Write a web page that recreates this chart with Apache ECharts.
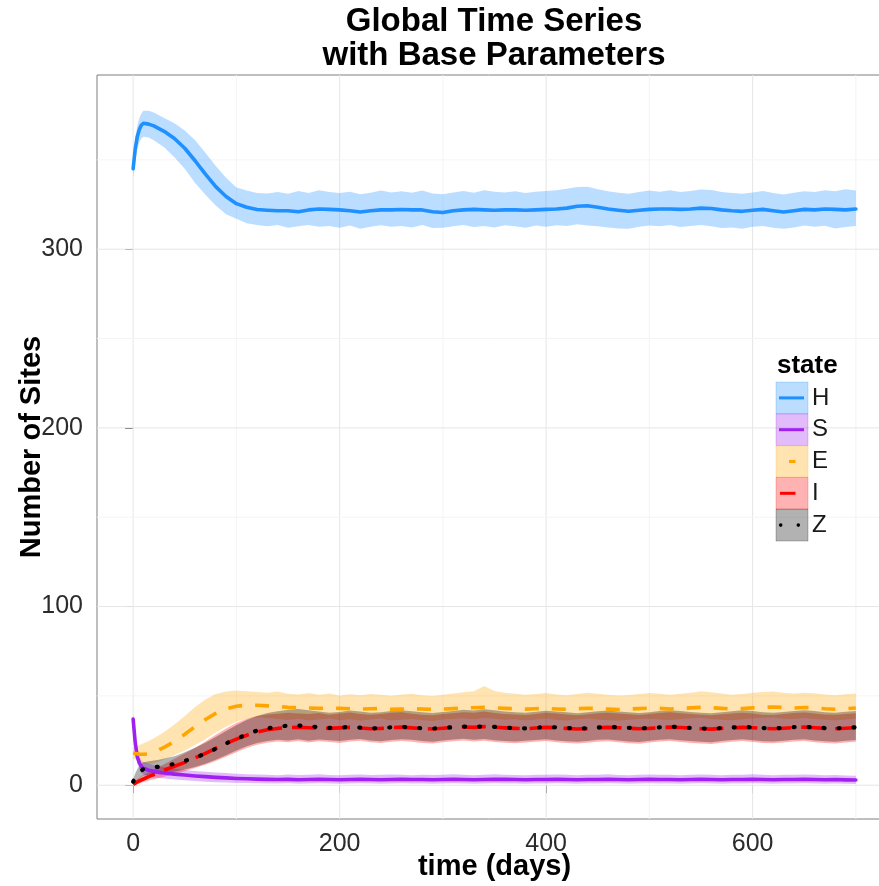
<!DOCTYPE html>
<html>
<head>
<meta charset="utf-8">
<script src="https://cdn.jsdelivr.net/npm/echarts@6/dist/echarts.min.js"></script>
<style>
  html, body { margin: 0; padding: 0; background: #ffffff; }
  #chart { width: 879px; height: 886px; }
</style>
</head>
<body>
<div id="chart"></div>
<script>
// Simulation output: mean and 95% band of the number of sites in each state
const days = [0, 2, 4, 6, 8, 10, 15, 20, 25, 30, 40, 50, 60, 70, 80, 90, 100, 110, 120,
  130, 140, 150, 160, 170, 180, 190, 200, 210, 220, 230, 240, 250, 260, 270, 280, 290, 300,
  310, 320, 330, 340, 350, 360, 370, 380, 390, 400, 410, 420, 430, 440, 450, 460, 470, 480,
  490, 500, 510, 520, 530, 540, 550, 560, 570, 580, 590, 600, 610, 620, 630, 640, 650, 660,
  670, 680, 690, 700];

const hMean = [345, 356, 363, 367, 369.5, 370.5, 370, 369, 367.5, 366, 362, 356.5, 349.5, 342, 335, 329.5, 325.5, 323.5, 322.2,
  321.8, 321.5, 321.5, 321, 322, 322.5, 322.3, 322, 321.5, 320.8,
  321.5, 322, 322, 322.2, 322, 322, 321, 320.5, 321.5, 322,
  322.3, 322, 321.8, 322, 322, 321.8, 322, 322.3, 322.5, 323,
  324, 324.3, 323.5, 322.5, 321.8, 321.2, 321.8, 322.3, 322.5, 322.5,
  322.3, 322.5, 323, 322.8, 322, 321.5, 321.2, 321.8, 322.3, 321.5,
  320.8, 321.5, 322.3, 322, 322.5, 322.3, 322, 322.5];
const hLow = [340, 350, 356, 360, 362, 363, 362.5, 361, 359, 357, 351.5, 345, 337, 330.5, 324.5, 319.5, 317, 314.5, 313.5,
  312.8, 313.5, 312, 312.8, 313.5, 312.5, 313, 312, 313.2, 311.5,
  312.5, 313.4, 312.6, 313, 312.2, 313.5, 311.8, 312, 312.8, 313.6,
  312.4, 313, 312.2, 313.4, 312.8, 312, 313.2, 312.6, 313.4, 313,
  314, 313.2, 312.8, 312.2, 311.6, 311.4, 312.6, 313.2, 312.8, 313.5,
  312.4, 313, 313.6, 312.8, 311.8, 312.2, 311.5, 312.6, 313, 312,
  311.4, 312.2, 313.3, 312.5, 313.1, 311.6, 312.4, 313];
const hUp = [350, 362, 369, 373.5, 376, 377.5, 377.5, 376.5, 375, 373.5, 370.5, 366.5, 361, 354, 346.5, 340, 334.5, 332.8, 331.5,
  331.2, 332, 331, 332.6, 331.5, 333, 332, 331.4, 332.2, 330.8,
  331.6, 332.8, 331.8, 332.4, 331.6, 332.8, 331.2, 330.8, 331.8, 332.6,
  331.6, 333, 332.2, 331.8, 332.4, 331.4, 332.2, 332.6, 333, 333.8,
  334.8, 335, 333.6, 332.4, 331.6, 331, 332, 332.8, 332.2, 333,
  332, 332.6, 333.4, 333.2, 332, 331.4, 331, 331.8, 332.6, 331.4,
  330.6, 331.6, 332.4, 332, 333, 332.4, 333.6, 332.8];

const sMean = [37, 24, 16, 12.5, 10.5, 9.5, 8.4, 7.8, 7.2, 6.8, 6.2, 5.7, 5.2, 4.8, 4.4, 4.1, 3.8, 3.6, 3.4,
  3.3, 3.2, 3.3, 3.1, 3.2, 3.3, 3.2, 3.1, 3.2, 3.3,
  3.2, 3.1, 3.2, 3.3, 3.2, 3.2, 3.1, 3.2, 3.3, 3.2,
  3.1, 3.2, 3.3, 3.3, 3.2, 3.1, 3.2, 3.2, 3.3, 3.2,
  3.1, 3.2, 3.2, 3.3, 3.2, 3.1, 3.2, 3.3, 3.2, 3.2,
  3.1, 3.2, 3.3, 3.2, 3.1, 3.2, 3.2, 3.3, 3.2, 3.1,
  3.2, 3.2, 3.3, 3.2, 3.1, 3.2, 3.0, 2.9];
const sLow = [34, 20, 12.5, 9, 7, 6, 5, 4.5, 4, 3.7, 3.2, 2.8, 2.4, 2, 1.7, 1.5, 1.3, 1.2, 1.1,
  1.0, 0.9, 1.1, 0.8, 1.0, 1.1, 0.9, 0.8, 1.0, 1.1,
  0.9, 0.8, 1.0, 1.1, 0.9, 1.0, 0.8, 0.9, 1.1, 1.0,
  0.8, 1.0, 1.1, 1.0, 0.9, 0.8, 1.0, 0.9, 1.1, 1.0,
  0.8, 0.9, 1.0, 1.1, 0.9, 0.8, 1.0, 1.1, 0.9, 1.0,
  0.8, 1.0, 1.1, 0.9, 0.8, 1.0, 0.9, 1.1, 1.0, 0.8,
  1.0, 0.9, 1.1, 1.0, 0.8, 0.9, 0.8, 0.7];
const sUp = [40, 28, 20, 16, 14, 13, 12, 11.2, 10.6, 10, 9.2, 8.5, 8, 7.5, 7.1, 6.8, 6.4, 6.2, 6,
  5.8, 5.6, 6.0, 5.7, 5.9, 6.1, 5.7, 5.6, 5.9, 6.0,
  5.7, 5.8, 6.0, 5.9, 5.6, 5.9, 5.7, 5.8, 6.1, 5.8,
  5.6, 5.9, 6.2, 5.8, 5.7, 5.6, 5.9, 5.8, 6.0, 5.9,
  5.6, 5.8, 5.9, 6.1, 5.7, 5.6, 5.9, 6.0, 5.8, 5.9,
  5.6, 5.8, 6.0, 5.9, 5.6, 5.8, 5.9, 6.1, 5.8, 5.6,
  5.8, 5.9, 6.0, 5.8, 5.6, 5.7, 5.5, 5.3];

const eMean = [18, 17.8, 17.6, 17.4, 17.3, 17.3, 17.6, 18.5, 19.8, 21.2, 24.5, 28.5, 32.8, 36.8, 40.2, 42.8, 44.2, 44.8, 44.8,
  44.4, 44, 43.6, 43.4, 43.2, 43, 43.2, 43, 42.8, 42.6,
  42.8, 42.9, 42.5, 42.6, 42.8, 42.7, 42.4, 42.6, 42.9, 43.2,
  43.4, 43.6, 43.3, 43, 42.8, 42.6, 42.8, 43, 42.7, 42.5,
  42.8, 43.1, 42.9, 42.6, 42.4, 42.6, 42.9, 43.2, 43, 42.7,
  42.9, 43.3, 43.6, 43.4, 43, 42.6, 42.9, 43.3, 43.6, 43.8,
  43.5, 43.2, 43.5, 43.3, 42.8, 42.5, 42.8, 43.2];
const eLow = [15, 14.5, 13.8, 13.2, 12.6, 12, 11.8, 12.3, 13.3, 14.5, 16.8, 19.5, 22.5, 25.8, 29.5, 32.8, 35.5, 37.2, 38,
  37.6, 37, 36.5, 37.2, 36.2, 36.8, 37.4, 36.4, 36.9, 36.1,
  36.8, 37.3, 36.2, 36.7, 37.1, 36.3, 36, 36.8, 37.2, 37.5,
  36.9, 37.6, 37.2, 36.6, 36.9, 36.2, 36.8, 37.3, 36.5, 36.2,
  36.9, 37.4, 36.8, 36.3, 36.1, 36.6, 37, 37.4, 36.8, 36.5,
  37, 37.5, 37.8, 37.1, 36.7, 36.3, 36.9, 37.4, 37.7, 37.9,
  37.2, 37, 37.6, 37.1, 36.6, 36.2, 36.8, 37.3];
const eUp = [21, 21.5, 22, 22.5, 23, 23.5, 24.8, 26.3, 28, 29.8, 34, 38.8, 43.8, 48, 51, 52.5, 53, 52.6, 52.2,
  51.8, 52.4, 51.2, 50.8, 51.6, 50.6, 51.4, 50.2, 50.9, 50.4,
  51, 50.6, 50.1, 50.8, 51.2, 50.4, 50, 50.6, 51.3, 52,
  52.6, 55.5, 52.8, 51.8, 51.2, 50.6, 51, 51.6, 50.8, 50.3,
  51, 51.8, 51.2, 50.6, 50.2, 50.5, 51, 51.6, 51.2, 50.7,
  51.2, 51.8, 52.6, 52, 51.3, 50.6, 51, 51.7, 52.2, 52.4,
  51.8, 51.3, 51.8, 51.5, 50.8, 50.3, 50.9, 51.4];

const iMean = [0.5, 1.2, 1.8, 2.4, 3, 3.5, 4.8, 6, 7.2, 8.4, 10.6, 12.8, 15.3, 17.8, 20.6, 23.3, 25.8, 28, 29.8,
  31, 31.8, 32.3, 32.4, 32.2, 32, 31.8, 32.1, 32.4, 32,
  31.6, 31.8, 32.2, 32.5, 32.1, 31.7, 31.5, 31.9, 32.3, 32.6,
  32.4, 32.8, 32.5, 32.1, 31.8, 31.6, 32, 32.4, 32.2, 31.8,
  31.5, 31.7, 32.1, 32.4, 32.2, 31.9, 31.6, 31.8, 32.2, 32.5,
  32.3, 31.9, 31.6, 31.4, 31.8, 32.1, 32.4, 32.2, 31.8, 31.6,
  31.9, 32.3, 32.5, 32.2, 31.8, 31.6, 31.9, 32.2];
const iLow = [0, 0.3, 0.6, 1, 1.4, 1.8, 2.6, 3.3, 4, 4.8, 6.3, 7.8, 9.6, 11.5, 13.6, 16, 18.5, 20.8, 22.6,
  23.8, 24.5, 24.1, 24.8, 23.9, 24.6, 24.2, 23.7, 24.5, 24.9,
  24.1, 23.6, 24.3, 24.8, 24.4, 23.7, 23.4, 24, 24.6, 25,
  24.5, 24.9, 24.2, 23.8, 23.5, 23.9, 24.3, 24.7, 24.1, 23.6,
  23.3, 23.8, 24.4, 24.6, 24, 23.5, 23.2, 23.9, 24.5, 24.8,
  24.2, 23.7, 23.4, 23.1, 23.8, 24.3, 24.7, 24.2, 23.6, 23.5,
  23.9, 24.5, 24.8, 24.1, 23.6, 23.4, 23.9, 24.3];
const iUp = [1.5, 2.5, 3.4, 4.3, 5, 5.6, 7.2, 8.8, 10.3, 11.8, 14.8, 17.8, 21, 24.5, 28.2, 31.8, 34.8, 37.2, 38.8,
  39.6, 40, 40.6, 40.2, 39.8, 40.4, 39.5, 40.1, 40.7, 39.9,
  39.4, 39.9, 40.5, 40.8, 40, 39.5, 39.2, 39.8, 40.3, 40.9,
  40.6, 41.2, 40.4, 39.9, 39.6, 39.3, 39.9, 40.5, 40.1, 39.6,
  39.2, 39.7, 40.3, 40.6, 40.2, 39.7, 39.3, 39.8, 40.4, 40.8,
  40.3, 39.8, 39.4, 39.1, 39.7, 40.2, 40.6, 40.1, 39.5, 39.3,
  39.8, 40.4, 40.7, 40.2, 39.6, 39.4, 39.9, 40.3];

const zMean = [2, 4, 6, 7.3, 8.3, 9, 9.6, 10, 10.4, 10.9, 11.9, 13.6, 15.5, 17.6, 20.4, 23.4, 26, 28.4, 30.6,
  31.8, 32.7, 33.4, 33.4, 33, 32.5, 32.1, 32.3, 32.6, 32.2,
  31.8, 32, 32.4, 32.7, 32.3, 31.9, 31.7, 32.1, 32.5, 32.8,
  32.6, 33, 32.7, 32.3, 32, 31.8, 32.2, 32.6, 32.4, 32,
  31.7, 31.9, 32.3, 32.6, 32.4, 32.1, 31.8, 32, 32.4, 32.7,
  32.5, 32.1, 31.8, 31.6, 32, 32.3, 32.6, 32.4, 32, 31.8,
  32.1, 32.5, 32.7, 32.4, 32, 31.8, 32.1, 32.4];
const zLow = [0.5, 1.5, 2.8, 3.8, 4.6, 5.2, 5.8, 6.2, 6.5, 6.9, 7.6, 8.8, 10.2, 12, 14.2, 16.8, 19.4, 21.8, 23.6,
  24.8, 25.5, 25.1, 25.8, 24.9, 25.6, 25.2, 24.7, 25.5, 25.9,
  25.1, 24.6, 25.3, 25.8, 25.4, 24.7, 24.4, 25, 25.6, 26,
  25.5, 25.9, 25.2, 24.8, 24.5, 24.9, 25.3, 25.7, 25.1, 24.6,
  24.3, 24.8, 25.4, 25.6, 25, 24.5, 24.2, 24.9, 25.5, 25.8,
  25.2, 24.7, 24.4, 24.1, 24.8, 25.3, 25.7, 25.2, 24.6, 24.5,
  24.9, 25.5, 25.8, 25.1, 24.6, 24.4, 24.9, 25.3];
const zUp = [3.5, 6.5, 9, 10.8, 12, 12.8, 13.4, 13.8, 14.3, 14.9, 16.2, 18.4, 21, 23.8, 27, 30.4, 33.5, 36.5, 38.8,
  40.4, 41.4, 42.2, 42.6, 42, 41.2, 40.6, 41, 41.8, 41.2,
  40.5, 40.9, 41.5, 42, 41.4, 40.8, 40.4, 41, 41.6, 42.2,
  41.8, 42.5, 41.9, 41.3, 40.9, 40.5, 41.1, 41.7, 41.3, 40.8,
  40.3, 40.8, 41.4, 41.8, 41.3, 40.8, 40.4, 40.9, 41.5, 42,
  41.6, 41, 40.6, 40.3, 40.9, 41.4, 41.9, 41.5, 40.9, 40.6,
  41, 41.6, 42, 41.5, 40.9, 40.6, 41.1, 41.5];

const states = ['H', 'S', 'E', 'I', 'Z'];
const stateColors = ['#1E90FF', '#A020F0', '#FFA500', '#FF0000', '#000000'];
const means = [hMean, sMean, eMean, iMean, zMean];
const lows = [hLow, sLow, eLow, iLow, zLow];
const ups = [hUp, sUp, eUp, iUp, zUp];

const xTicks = [0, 200, 400, 600];
const xMinor = [100, 300, 500, 700];
const yTicks = [0, 100, 200, 300];
const yMinor = [50, 150, 250, 350];

const FONT = "'Liberation Sans', Arial, Helvetica, sans-serif";
const LINE_W = 3.6;
// line patterns per state (solid, solid, dashed, long dash, dotted)
const lineTypes = ['solid', 'solid', [14, 13], [24, 10], [1, 14]];
const lineCaps = ['round', 'round', 'butt', 'butt', 'round'];
const lineWidths = [LINE_W, LINE_W, LINE_W, LINE_W, 4.2];

function pairs(vals) { return days.map((d, i) => [d, vals[i]]); }
function hexA(hex, a) {
  const n = parseInt(hex.slice(1), 16);
  return `rgba(${(n >> 16) & 255},${(n >> 8) & 255},${n & 255},${a})`;
}

const series = [];

// panel grid lines: [x, y, major flag]
const vGrid = xMinor.map(v => [v, 0, 0]).concat(xTicks.map(v => [v, 0, 1]));
const hGrid = yMinor.map(v => [0, v, 0]).concat(yTicks.map(v => [0, v, 1]));
const gridColor = m => (m ? '#E6E6E6' : '#F4F4F4');
series.push({
  type: 'custom', silent: true, z: 1, data: vGrid, encode: { x: 0, y: 1 },
  renderItem: (params, api) => {
    const cs = params.coordSys;
    const p = api.coord([api.value(0), 0]);
    return { type: 'line', shape: { x1: p[0], y1: cs.y, x2: p[0], y2: cs.y + cs.height },
      style: { stroke: gridColor(api.value(2)), lineWidth: 1 } };
  }
});
series.push({
  type: 'custom', silent: true, z: 1, data: hGrid, encode: { x: 0, y: 1 },
  renderItem: (params, api) => {
    const cs = params.coordSys;
    const p = api.coord([0, api.value(1)]);
    return { type: 'line', shape: { x1: cs.x, y1: p[1], x2: cs.x + cs.width, y2: p[1] },
      style: { stroke: gridColor(api.value(2)), lineWidth: 1 } };
  }
});

// confidence ribbons, one polygon per state
states.forEach((s, k) => {
  series.push({
    type: 'custom', silent: true, z: 2,
    data: days.map((d, i) => [d, lows[k][i], ups[k][i]]),
    encode: { x: 0, y: [1, 2] },
    renderItem: (params, api) => {
      if (params.dataIndexInside !== 0) return null;
      const n = params.dataInsideLength;
      const pts = [];
      for (let i = 0; i < n; i++) pts.push(api.coord([api.value(0, i), api.value(2, i)]));
      for (let i = n - 1; i >= 0; i--) pts.push(api.coord([api.value(0, i), api.value(1, i)]));
      return { type: 'polygon', shape: { points: pts }, style: { fill: hexA(stateColors[k], 0.3) } };
    }
  });
});

// mean trajectories
states.forEach((s, k) => {
  series.push({
    type: 'line', name: s, data: pairs(means[k]), symbol: 'none', silent: true, z: 3,
    lineStyle: { color: stateColors[k], width: lineWidths[k], type: lineTypes[k], cap: lineCaps[k], join: 'round' }
  });
});

// legend drawn as ribbon keys with line samples
const legendGraphics = [];
const keyX = 776, keyY0 = 382, keyW = 32, keyH = 31.8;
legendGraphics.push({
  type: 'text', x: 777, y: 366, z: 100,
  style: { text: 'state', font: `bold 26px ${FONT}`, fill: '#000', textVerticalAlign: 'middle' }
});
const keySamples = [
  [[779, 804]], [[779, 804]], [[789, 795.5]], [[780, 795.5]], null
];
states.forEach((s, k) => {
  const y = keyY0 + k * keyH;
  const cy = y + keyH / 2;
  legendGraphics.push({
    type: 'rect', z: 100, shape: { x: keyX, y: y, width: keyW, height: keyH },
    style: { fill: hexA(stateColors[k], 0.3), stroke: hexA(stateColors[k], 0.22), lineWidth: 1 }
  });
  if (keySamples[k]) {
    keySamples[k].forEach(seg => legendGraphics.push({
      type: 'line', z: 101, shape: { x1: seg[0], y1: cy, x2: seg[1], y2: cy },
      style: { stroke: stateColors[k], lineWidth: 3, lineCap: 'butt' }
    }));
  } else {
    [780.7, 798.3].forEach(cx => legendGraphics.push({
      type: 'circle', z: 101, shape: { cx: cx, cy: cy, r: 1.8 }, style: { fill: stateColors[k] }
    }));
  }
  legendGraphics.push({
    type: 'text', x: 812, y: cy, z: 100,
    style: { text: s, font: `24px ${FONT}`, fill: '#1a1a1a', textVerticalAlign: 'middle' }
  });
});

const chart = echarts.init(document.getElementById('chart'), null, { renderer: 'canvas' });
chart.setOption({
  backgroundColor: '#ffffff',
  animation: false,
  grid: {
    left: 97, top: 75, right: -13, bottom: 67,
    show: true, borderColor: '#7F7F7F', borderWidth: 1, backgroundColor: '#ffffff',
    containLabel: false, outerBoundsMode: 'none'
  },
  xAxis: {
    type: 'value', min: -35, max: 735,
    axisLine: { show: false },
    splitLine: { show: false },
    axisTick: { show: true, customValues: xTicks, length: 8, lineStyle: { color: '#555', width: 1 } },
    axisLabel: { customValues: xTicks, fontSize: 25, fontFamily: FONT, color: '#2b2b2b', margin: 13 },
    name: 'time (days)', nameLocation: 'middle', nameGap: 33, nameMoveOverlap: false,
    nameTextStyle: { fontSize: 29, fontWeight: 'bold', fontFamily: FONT, color: '#000' }
  },
  yAxis: {
    type: 'value', min: -18.9, max: 397.5,
    axisLine: { show: false },
    splitLine: { show: false },
    axisTick: { show: true, customValues: yTicks, length: 8, lineStyle: { color: '#555', width: 1 } },
    axisLabel: { customValues: yTicks, fontSize: 25, fontFamily: FONT, color: '#2b2b2b', margin: 14 },
    name: 'Number of Sites', nameLocation: 'middle', nameGap: 51, nameMoveOverlap: false,
    nameTextStyle: { fontSize: 29, fontWeight: 'bold', fontFamily: FONT, color: '#000' }
  },
  graphic: [
    { type: 'text', x: 494, y: 22, z: 100, style: { text: 'Global Time Series', font: `bold 33px ${FONT}`, fill: '#000', textAlign: 'center', textVerticalAlign: 'middle' } },
    { type: 'text', x: 494, y: 56, z: 100, style: { text: 'with Base Parameters', font: `bold 33px ${FONT}`, fill: '#000', textAlign: 'center', textVerticalAlign: 'middle' } },
    ...legendGraphics
  ],
  series: series
});
</script>
</body>
</html>
